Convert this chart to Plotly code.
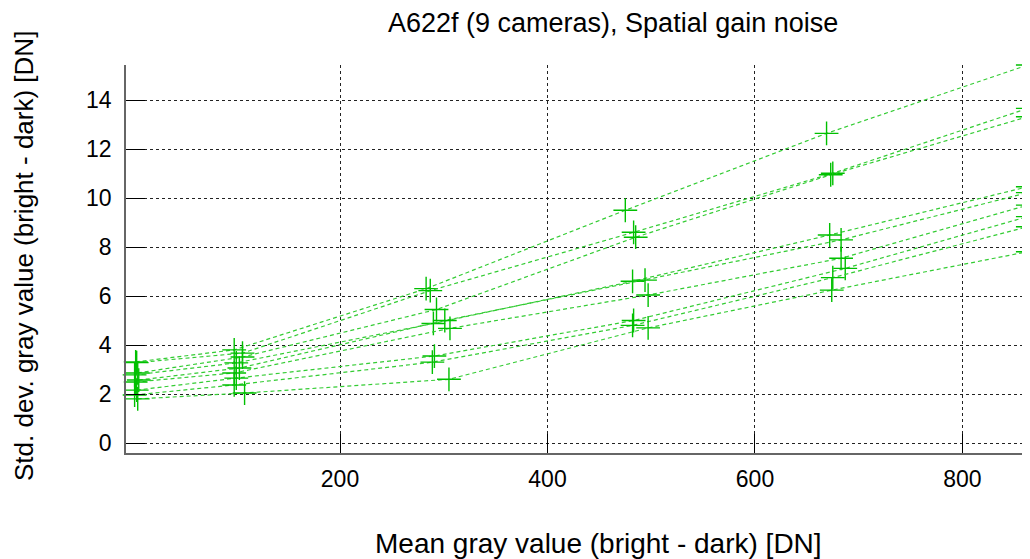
import plotly.graph_objects as go

# Per-camera data: mean gray value (x) and std. dev. (y)
cam_x = [
    [3, 98, 283, 475, 669, 863],
    [4, 106, 287, 483, 675, 863],
    [5, 106, 293, 485, 673, 863],
    [2, 100, 290, 482, 672, 863],
    [6, 103, 301, 494, 683, 863],
    [3, 98, 306, 497, 683, 863],
    [4, 100, 291, 483, 687, 863],
    [2, 98, 289, 482, 675, 863],
    [5, 108, 305, 497, 674, 863],
]
cam_y = [
    [3.31, 3.80, 6.30, 9.50, 12.64, 15.43],
    [3.28, 3.67, 6.22, 8.60, 11.01, 13.66],
    [2.86, 3.51, 5.45, 8.40, 10.95, 13.32],
    [2.78, 3.27, 4.88, 6.60, 8.49, 10.46],
    [2.57, 3.06, 5.00, 6.65, 8.29, 10.22],
    [2.49, 2.86, 4.68, 6.04, 7.54, 9.71],
    [2.16, 2.65, 3.55, 5.00, 7.13, 9.24],
    [1.96, 2.37, 3.30, 4.80, 6.75, 8.83],
    [1.80, 2.04, 2.60, 4.70, 6.24, 7.81],
]
x_ticks = [200, 400, 600, 800]
y_ticks = [0, 2, 4, 6, 8, 10, 12, 14]

title = "A622f (9 cameras), Spatial gain noise"
x_title = "Mean gray value (bright - dark) [DN]"
y_title = "Std. dev. gray value (bright - dark) [DN]"

OFF = 8  # page body margin
W, H = 1030 - OFF, 559 - OFF
L, T = 126 - OFF, 65 - OFF
R = 0
B = H - T - 388
FONT = "Liberation Sans, Arial, sans-serif"

fig = go.Figure()
for xs, ys in zip(cam_x, cam_y):
    fig.add_trace(go.Scatter(
        x=xs, y=ys, mode="lines+markers",
        line=dict(color="#33cc33", width=1.2, dash="4px,3px"),
        marker=dict(symbol="cross-thin", size=17, line=dict(color="#00c000", width=1.4)),
        cliponaxis=False, showlegend=False, hoverinfo="x+y",
    ))

grid = dict(showgrid=True, gridcolor="#222222", gridwidth=1, griddash="3px,3px",
            zeroline=False, ticks="inside", ticklen=19, tickcolor="#000000", tickwidth=1,
            showline=True, linecolor="#666666", linewidth=1.5, mirror=False,
            tickfont=dict(family=FONT, size=23, color="#000000"))

fig.update_xaxes(range=[-6.3, 865.1], tickvals=x_ticks, ticktext=[str(v) for v in x_ticks],
                 ticklabelstandoff=5, **grid)
fig.update_yaxes(range=[-0.408, 15.43], tickvals=y_ticks, ticktext=[str(v) for v in y_ticks],
                 ticklabelstandoff=8, **grid)

pw = W - L - R
ph = H - T - B
def px_to_paper_x(px):
    return (px - OFF - L) / pw
def py_to_paper_y(py):
    return (H - B - (py - OFF)) / ph

fig.update_layout(
    width=W, height=H,
    margin=dict(l=L, r=R, t=T, b=B, pad=0),
    plot_bgcolor="white", paper_bgcolor="white",
    font=dict(family=FONT, color="#000000"),
    annotations=[
        dict(text=title, xref="paper", yref="paper", x=px_to_paper_x(613), y=py_to_paper_y(23),
             xanchor="center", yanchor="middle", showarrow=False,
             font=dict(family=FONT, size=27, color="#000000")),
        dict(text=x_title, xref="paper", yref="paper", x=px_to_paper_x(598), y=py_to_paper_y(543),
             xanchor="center", yanchor="middle", showarrow=False,
             font=dict(family=FONT, size=28, color="#000000")),
        dict(text=y_title, xref="paper", yref="paper", x=px_to_paper_x(24), y=py_to_paper_y(256),
             xanchor="center", yanchor="middle", showarrow=False, textangle=-90,
             font=dict(family=FONT, size=26, color="#000000")),
    ],
)

fig.write_html("out.html")
